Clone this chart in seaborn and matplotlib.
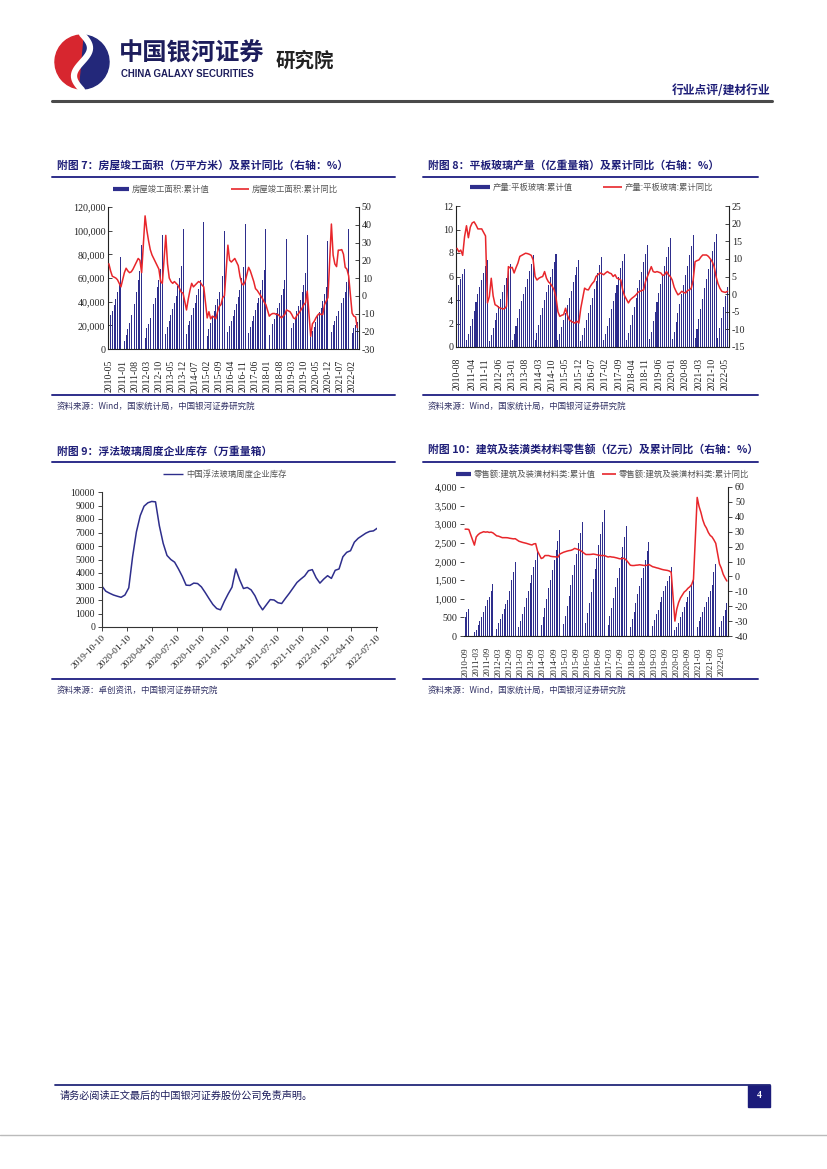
import numpy as np
import pandas as pd
import matplotlib.pyplot as plt
import seaborn as sns
from matplotlib.patches import Rectangle, Wedge

sns.set_theme(style="white")
plt.rcParams['font.family'] = ['Noto Sans CJK SC', 'DejaVu Sans']
plt.rcParams['axes.unicode_minus'] = False

NAVY = '#2e2e8c'
RED = '#e8262b'
TITLE = '#1e1e78'
SERIF = ['Liberation Serif', 'DejaVu Serif']

# ---- 附图7: 房屋竣工面积 (万平方米, 累计值) / 累计同比 (%) , 2010-05 .. 2022-05
area_start = '2010-05'
completion_area = [
    24000, 28500, 32500, 37000, 42000, 48500, 56000, 78000,                        # 2010
    None, 7000, 12000, 17000, 22000, 29000, 33000, 38000, 48000, 58000, 66000, 88000,  # 2011
    None, 9500, 17500, 21000, 26000, 33000, 38000, 43000, 52000, 58500, 68000, 96000,  # 2012
    None, 12500, 18500, 24000, 28500, 34000, 39000, 45000, 53000, 60000, 70000, 101000,  # 2013
    None, 13000, 20000, 24000, 29000, 35000, 39000, 46000, 51000, 58000, 66000, 107000,  # 2014
    None, 11000, 16500, 22000, 27000, 32000, 37500, 42000, 48000, 55000, 62000, 100000,  # 2015
    None, 14000, 19500, 24000, 28000, 33000, 38000, 44000, 50000, 60000, 69000, 106000,  # 2016
    None, 13500, 19000, 24000, 28000, 33000, 38500, 43000, 50000, 58000, 67000, 101000,  # 2017
    None, 12000, 17500, 21500, 25000, 30500, 34500, 39000, 45500, 51000, 58000, 93000,  # 2018
    None, 12000, 18000, 22000, 26000, 32000, 36500, 41000, 48000, 54000, 64000, 96000,  # 2019
    None, 10000, 15500, 19000, 22500, 27500, 31000, 34500, 40500, 46500, 52500, 91200,  # 2020
    None, 14500, 20000, 23500, 27500, 32000, 35000, 38500, 43000, 48000, 57000, 101400,  # 2021
    None, 13900, 18100, 19900, 22800,                                                  # 2022
]
completion_yoy = [
    18, 14, 11, 10.5, 10, 9, 7, 5,
    None, 13, 15.5, 14, 13, 13.5, 15, 17, 19, 21, 20, 13,
    None, 45, 37, 31, 26, 23, 21, 19, 17, 15, 8, 7,
    None, 34, 18, 10, 8, 7, 8, 7, 6, 4, 2, 1.5,
    None, -8, -2, 3, 7, 5, 6, 7, 8, 7.5, 6, 5,
    None, -12.5, -9, -13, -11.5, -12, -13, -9, -6, -5, -1, 0,
    None, 28.5, 20, 19, 20, 21, 19, 17, 11, 7, 6, 8,
    None, 16, 14, 11, 8, 4, 3, 1.5, 0, -1.5, -3.5, -5,
    None, -11.5, -10.5, -10, -10, -10.5, -10.5, -11.5, -12.5, -11.5, -10.5, -8,
    None, -9, -10.5, -12.5, -13, -11, -10, -8.5, -7, -5, -4, 2.6,
    None, -22.9, -15.8, -14.5, -12.5, -11, -10, -10.6, -10.5, -5, -3, -1,
    None, 40.4, 22.9, 17.9, 16.4, 25.7, 25.7, 26, 23.4, 16, 15, 11.2,
    None, -9.8, -11.5, -11.9, -18,
]
area_ticks = ['2010-05', '2011-01', '2011-08', '2012-03', '2012-10', '2013-05', '2013-12',
              '2014-07', '2015-02', '2015-09', '2016-04', '2016-11', '2017-06', '2018-01',
              '2018-08', '2019-03', '2019-10', '2020-05', '2020-12', '2021-07', '2022-02']

# ---- 附图8: 平板玻璃产量 (亿重量箱, 累计值) / 累计同比 (%), 2010-08 .. 2022-06
glass_start = '2010-08'
glass_output = [
    4.8, 5.3, 5.8, 6.2, 6.6,
    0.6, 1.1, 1.8, 2.4, 3.1, 3.8, 4.5, 5.1, 5.7, 6.3, 6.9, 7.4,
    0.5, 1.0, 1.6, 2.3, 2.9, 3.5, 4.1, 4.7, 5.3, 5.9, 6.5, 7.1,
    0.6, 1.1, 1.8, 2.5, 3.2, 3.9, 4.5, 5.1, 5.8, 6.5, 7.1, 7.8,
    0.6, 1.2, 1.9, 2.7, 3.3, 4.0, 4.7, 5.3, 6.0, 6.6, 7.2, 7.9,
    0.6, 1.1, 1.7, 2.3, 2.9, 3.6, 4.2, 4.8, 5.5, 6.1, 6.8, 7.4,
    0.5, 1.0, 1.6, 2.3, 2.9, 3.6, 4.2, 4.9, 5.6, 6.3, 7.0, 7.7,
    0.6, 1.1, 1.8, 2.5, 3.2, 3.9, 4.6, 5.3, 6.0, 6.7, 7.3, 7.9,
    0.6, 1.2, 1.9, 2.7, 3.4, 4.2, 5.0, 5.7, 6.4, 7.2, 7.9, 8.7,
    0.7, 1.3, 2.2, 3.0, 3.8, 4.6, 5.4, 6.1, 6.9, 7.7, 8.5, 9.3,
    0.7, 1.3, 2.1, 2.9, 3.7, 4.5, 5.3, 6.1, 6.9, 7.8, 8.6, 9.5,
    0.8, 1.5, 2.4, 3.2, 4.1, 5.0, 5.8, 6.6, 7.4, 8.2, 8.9, 9.6,
    0.8, 1.6, 2.5, 3.4, 4.3, 5.1,
]
glass_yoy = [
    13, 12, 12.5, 11, 16.3,
    19.4, 16, 19, 20.2, 20.5, 19.6, 18.5, 18.5, 18.5, 17.5, 16.5, -2.5,
    -0.7, 4.5, -0.5, -3, -3.3, -3.8, -4, -4.2, -4.1, -3.5, 7.8, 7.4,
    7.6, 6, 7.5, 8.8, 10.7, 11, 11.3, 11.6, 11.5, 11.3, 11, 9.7,
    5, 4, 4.5, 4.8, 5, 6.4, 4.5, 3.5, 3, 2.2, 1.2, -1,
    -5, -6.3, -6, -5.8, -4, -6, -7.3, -7.7, -8, -8.2, -7.7, -8.2,
    -4, -1.1, 1.7, 1.3, 1.2, 2.2, 3, 3.6, 5, 5.5, 6, 5.8,
    5.5, 6, 6.4, 6, 5.8, 5, 5.5, 4.5, 4.3, 4, 1.2, -0.5,
    -1.5, -2.5, -1.6, -1.1, -0.7, -0.2, 0.5, 0.8, 1.0, 1.2, 3.6, 5,
    6.4, 7.8, 6.4, 6.2, 6.4, 6.2, 6, 5.3, 5.5, 6.4, 5.5, 5,
    4, 2, 0.8, -0.2, 0.2, 0.8, 0.5, 0.3, 1, 1.2, 1.7, 4,
    9.2, 9.5, 9.7, 10.5, 11.1, 11.1, 11.1, 10.7, 10, 9.2, 7.8, 5,
    3, 1.7, 0.8, 0.6, 0.5, 0.8,
]
glass_ticks = ['2010-08', '2011-04', '2011-11', '2012-06', '2013-01', '2013-08', '2014-03',
               '2014-10', '2015-05', '2015-12', '2016-07', '2017-02', '2017-09', '2018-04',
               '2018-11', '2019-06', '2020-01', '2020-08', '2021-03', '2021-10', '2022-05']

# ---- 附图9: 浮法玻璃周度企业库存 (万重量箱), every two weeks from 2019-10-10
inventory_start = '2019-10-10'
float_inventory = [
    3020, 2650, 2500, 2370, 2280, 2200, 2370, 2900, 5200, 7050,
    8250, 8950, 9200, 9300, 9270, 7500, 6200, 5300, 5000, 4800,
    4300, 3750, 3100, 3080, 3250, 3220, 2970, 2550, 2100, 1670,
    1370, 1270, 1900, 2450, 2950, 4300, 3500, 2850, 2930, 2750,
    2320, 1700, 1270, 1650, 2030, 2000, 1800, 1740, 2130, 2500,
    2900, 3300, 3550, 3780, 4170, 4250, 3650, 3250, 3550, 3800,
    3600, 4200, 4300, 5200, 5530, 5650, 6280, 6570, 6760, 6950,
    7080, 7120, 7320,
]
inventory_ticks = ['2019-10-10', '2020-01-10', '2020-04-10', '2020-07-10', '2020-10-10',
                   '2021-01-10', '2021-04-10', '2021-07-10', '2021-10-10', '2022-01-10',
                   '2022-04-10', '2022-07-10']

# ---- 附图10: 建筑及装潢材料类零售额 (亿元, 累计值) / 累计同比 (%), 2010-09 .. 2022-06
retail_start = '2010-09'
retail_sales = [
    510, 640, 730, None,
    None, 110, 170, 300, 400, 510, 640, 800, 960, 1050, 1200, 1400,
    None, 200, 340, 460, 580, 720, 850, 960, 1200, 1500, 1710, 1980,
    None, 230, 410, 590, 790, 1020, 1200, 1410, 1630, 1840, 2040, 2270,
    None, 290, 510, 740, 1000, 1280, 1510, 1770, 2050, 2310, 2560, 2850,
    None, 310, 550, 800, 1070, 1380, 1630, 1900, 2210, 2490, 2760, 3070,
    None, 340, 610, 880, 1190, 1530, 1800, 2100, 2440, 2750, 3050, 3390,
    None, 300, 530, 760, 1030, 1320, 1560, 1820, 2120, 2380, 2650, 2940,
    None, 250, 450, 650, 880, 1130, 1340, 1560, 1820, 2050, 2280, 2530,
    None, 260, 420, 600, 710, 900, 1050, 1200, 1330, 1480, 1620, 1840,
    None, 150, 240, 360, 500, 650, 780, 920, 1040, 1200, 1360, 1510,
    None, 240, 400, 520, 650, 790, 900, 1050, 1220, 1380, 1710, 1940,
    None, 250, 400, 530, 690, 880,
]
retail_yoy = [
    31.7, 31.7, 31.5, None,
    None, 21, 26.5, 28, 29, 29.5, 30, 29.7, 29.9, 29.5, 29.7, 29.2,
    None, 27.2, 27, 26.5, 26, 26, 26, 25.9, 25.6, 25.4, 25.2, 25.3,
    None, 23.6, 23.2, 22.8, 22.5, 22.2, 21.8, 21.4, 21.1, 21.8, 22, 17,
    None, 12, 12.5, 14, 14, 14, 13.5, 13.3, 13.2, 13.1, 12.9, 15,
    None, 16.2, 16.6, 17, 17.3, 17.5, 18, 18.8, 18.4, 18, 17.5, 16.6,
    None, 14.7, 14.7, 14.7, 14.8, 15, 14.8, 14.5, 14.2, 14, 14, 14,
    None, 13, 13.3, 13, 12.9, 12.6, 12.3, 11.9, 11.8, 12.2, 11.8, 10.7,
    None, 7.5, 7.3, 7.3, 7.5, 7.6, 7.8, 7.6, 7.4, 7.3, 7.5, 8,
    None, 6.5, 6.2, 5.8, 5.5, 5.1, 4.7, 4.4, 4.2, 4, 3.6, 2.8,
    None, -30, -22, -17.5, -14.5, -12.5, -10.5, -9.5, -8, -7, -5.5, -2,
    None, 53, 47, 43, 38, 34.5, 32.4, 29.5, 27.5, 26.5, 24.5, 22.2,
    None, 8.4, 5.5, 1.5, -1, -3.1,
]
retail_ticks = ['2010-09', '2011-03', '2011-09', '2012-03', '2012-09', '2013-03', '2013-09',
                '2014-03', '2014-09', '2015-03', '2015-09', '2016-03', '2016-09', '2017-03',
                '2017-09', '2018-03', '2018-09', '2019-03', '2019-09', '2020-03', '2020-09',
                '2021-03', '2021-09', '2022-03']

fig = plt.figure(figsize=(8.27, 11.69), dpi=100)
W, H = 827, 1169

# page overlay in pixel coordinates
bg = fig.add_axes([0, 0, 1, 1])
bg.set_xlim(0, W)
bg.set_ylim(H, 0)
bg.axis('off')


def px_rect(l, t, r, b):
    return [l / W, 1 - b / H, (r - l) / W, (b - t) / H]


def month_pos(labels, start):
    s = pd.Period(start, freq='M')
    return [(pd.Period(t, freq='M') - s).n for t in labels]


# ---- header
bg.add_patch(Wedge((82, 62), 27, 95, 275, color='#d7262f'))
bg.add_patch(Wedge((82, 62), 27, -85, 95, color='#23287a'))
t = np.linspace(0, 1, 40)
bg.plot(82 + 8 * np.sin(2 * np.pi * t), 34 + 56 * t, color='white', lw=4.5, solid_capstyle='round')
bg.text(119, 54, '中国银河证券', fontsize=17.5, fontweight='bold', color='#1d1d5c', va='center')
bg.text(121, 74, 'CHINA GALAXY SECURITIES', fontsize=6.9, fontweight='bold', color='#1d1d5c',
        va='center', family=['Liberation Sans', 'DejaVu Sans'])
bg.text(276, 61, '研究院', fontsize=14, fontweight='bold', color='#222222', va='center')
bg.text(770, 90, '行业点评/建材行业', fontsize=8.5, fontweight='bold', color=TITLE, ha='right', va='center')
bg.plot([52, 772], [100.5, 100.5], color='#4a4a4a', lw=2.2)

# ---- footer
bg.plot([55, 770], [1085, 1085], color='#23287a', lw=1.3)
bg.text(60, 1096, '请务必阅读正文最后的中国银河证券股份公司免责声明。', fontsize=7.3, color='#1d1d5c', va='center')
bg.add_patch(Rectangle((748, 1085), 22, 22, color='#1b1b7a'))
bg.text(759, 1096, '4', fontsize=7, color='white', fontweight='bold', ha='center', va='center',
        family=SERIF)
bg.plot([0, W], [1135, 1135], color='#bbbbbb', lw=1)


def panel_frame(x0, x1, title, y_title, y_rule, y_bottom, source):
    bg.text(x0 + 5, y_title, title, fontsize=7.8, fontweight='bold', color=TITLE, va='center')
    bg.plot([x0, x1], [y_rule, y_rule], color='#2e2e8a', lw=1.4)
    bg.plot([x0, x1], [y_bottom, y_bottom], color='#2e2e8a', lw=1.4)
    bg.text(x0 + 5, y_bottom + 11, source, fontsize=6.1, color='#333366', va='center')


def legend_item(x0, x1, y, color, lw, label):
    bg.plot([x0, x1], [y, y], color=color, lw=lw, solid_capstyle='butt')
    bg.text(x1 + 3, y, label, fontsize=6, color='#555555', va='center')


def style_ticks(labels, size=7.2):
    for lab in labels:
        lab.set_fontfamily(SERIF)
        lab.set_fontsize(size)
        lab.set_color('#222222')


def dual_chart(rect, start, bars, yoy, tick_labels, bar_lim, bar_ticks, yoy_lim, yoy_ticks,
               xlim, comma, left_spine=True, tick_dir='in', xsize=7):
    ax = fig.add_axes(rect)
    ax.set_facecolor('none')
    df = pd.DataFrame({'pos': np.arange(len(bars)),
                       'bar': pd.Series(bars, dtype=float),
                       'yoy': pd.Series(yoy, dtype=float)})
    sns.barplot(data=df.dropna(subset=['bar']), x='pos', y='bar', native_scale=True,
                color=NAVY, saturation=1, width=0.55, errorbar=None, linewidth=0, ax=ax)
    ax2 = ax.twinx()
    sns.lineplot(data=df.dropna(subset=['yoy']), x='pos', y='yoy', color=RED, linewidth=1.1, ax=ax2)

    ax.set_xlim(*xlim)
    ax.set_xticks(month_pos(tick_labels, start))
    ax.set_xticklabels(tick_labels, rotation=90)
    ax.set_ylim(*bar_lim)
    ax.set_yticks(bar_ticks)
    ax.set_yticklabels([f'{v:,}' if comma else f'{v}' for v in bar_ticks])
    ax2.set_ylim(*yoy_lim)
    ax2.set_yticks(yoy_ticks)
    ax2.set_yticklabels([str(v) for v in yoy_ticks])
    ax.set_xlabel('')
    ax.set_ylabel('')
    ax2.set_xlabel('')
    ax2.set_ylabel('')
    for a in (ax, ax2):
        for s in a.spines.values():
            s.set_visible(False)
    ax.spines['bottom'].set_visible(True)
    ax.spines['left'].set_visible(left_spine)
    ax2.spines['right'].set_visible(True)
    for s in (ax.spines['bottom'], ax.spines['left'], ax2.spines['right']):
        s.set_color('#222222')
        s.set_linewidth(0.8)
    ax.tick_params(axis='y', left=True, direction=tick_dir, length=3, width=0.6, pad=2)
    ax.tick_params(axis='x', bottom=False, pad=2)
    ax2.tick_params(axis='y', right=True, direction=tick_dir, length=3, width=0.6, pad=2)
    style_ticks(ax.get_xticklabels(), xsize)
    style_ticks(ax.get_yticklabels())
    style_ticks(ax2.get_yticklabels())
    return ax, ax2


# ---- 附图7
panel_frame(52, 395, '附图 7：房屋竣工面积（万平方米）及累计同比（右轴：%）', 165, 177, 395,
            '资料来源：Wind，国家统计局，中国银河证券研究院')
legend_item(113, 129, 189, NAVY, 3, '房屋竣工面积:累计值')
legend_item(231, 249, 189, RED, 1.2, '房屋竣工面积:累计同比')
dual_chart(px_rect(108, 207, 359, 349), area_start, completion_area, completion_yoy, area_ticks,
           (0, 120000), list(range(0, 120001, 20000)), (-30, 50), list(range(-30, 51, 10)),
           (-0.5, 145), comma=True)

# ---- 附图8
panel_frame(423, 758, '附图 8：平板玻璃产量（亿重量箱）及累计同比（右轴：%）', 165, 177, 395,
            '资料来源：Wind，国家统计局，中国银河证券研究院')
legend_item(470, 490, 187, NAVY, 3, '产量:平板玻璃:累计值')
legend_item(603, 622, 187, RED, 1.2, '产量:平板玻璃:累计同比')
dual_chart(px_rect(456, 206, 729, 347), glass_start, glass_output, glass_yoy, glass_ticks,
           (0, 12), list(range(0, 13, 2)), (-15, 25), list(range(-15, 26, 5)),
           (-0.5, 142.8), comma=False)

# ---- 附图9
panel_frame(52, 395, '附图 9：浮法玻璃周度企业库存（万重量箱）', 452, 462, 679,
            '资料来源：卓创资讯，中国银河证券研究院')
legend_item(163, 183, 474, NAVY, 1, '中国浮法玻璃周度企业库存')
ax9 = fig.add_axes(px_rect(102, 492, 377, 627))
ax9.set_facecolor('none')
inv_dates = pd.date_range(inventory_start, periods=len(float_inventory), freq='14D')
inv_days = np.asarray((inv_dates - inv_dates[0]).days)
sns.lineplot(x=inv_days, y=float_inventory, color=NAVY, linewidth=1.1, ax=ax9)
tick_days = [(pd.Timestamp(d) - pd.Timestamp(inventory_start)).days for d in inventory_ticks]
ax9.set_xlim(0, tick_days[-1] + 3)
ax9.set_xticks(tick_days)
ax9.set_xticklabels(inventory_ticks, rotation=45, ha='right', rotation_mode='anchor')
ax9.set_ylim(0, 10000)
ax9.set_yticks(range(0, 10001, 1000))
ax9.set_yticklabels([str(v) for v in range(0, 10001, 1000)])
ax9.set_xlabel('')
ax9.set_ylabel('')
for s in ax9.spines.values():
    s.set_visible(False)
for side in ('left', 'bottom'):
    ax9.spines[side].set_visible(True)
    ax9.spines[side].set_color('#333333')
    ax9.spines[side].set_linewidth(0.8)
ax9.tick_params(axis='both', left=True, bottom=True, direction='out', length=3, width=0.6, pad=2)
style_ticks(ax9.get_xticklabels(), 6.8)
style_ticks(ax9.get_yticklabels(), 7)

# ---- 附图10
panel_frame(423, 758, '附图 10：建筑及装潢类材料零售额（亿元）及累计同比（右轴：%）', 450, 462, 679,
            '资料来源：Wind，国家统计局，中国银河证券研究院')
legend_item(456, 471, 474, NAVY, 3, '零售额:建筑及装潢材料类:累计值')
legend_item(602, 616, 474, RED, 1.2, '零售额:建筑及装潢材料类:累计同比')
dual_chart(px_rect(464, 487, 728, 636), retail_start, retail_sales, retail_yoy, retail_ticks,
           (0, 4000), list(range(0, 4001, 500)), (-40, 60), list(range(-40, 61, 10)),
           (-0.6, 141.6), comma=True, left_spine=False, tick_dir='out', xsize=6.3)

fig.savefig('out.png', dpi=100)
